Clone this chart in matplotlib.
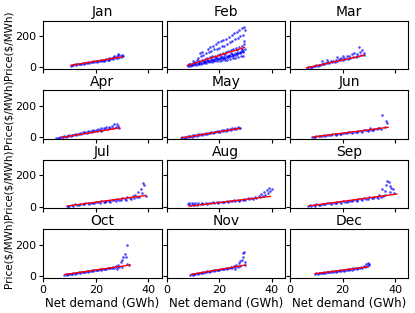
import numpy as np
import matplotlib
matplotlib.use("Agg")
import matplotlib.pyplot as plt

MONTHS = ["Jan", "Feb", "Mar", "Apr", "May", "Jun",
          "Jul", "Aug", "Sep", "Oct", "Nov", "Dec"]

# scatter points: net demand (GWh), price ($/MWh)
jan_x = [10.5, 11, 11.5, 12, 12.5, 13, 13.5, 14, 14.5, 15, 15.5, 16, 16.5, 17, 17.5, 18, 18.5, 19, 19.5, 20,
         20.5, 21, 21.5, 22, 22.5, 23, 23.5, 24, 24.5, 25, 25.5, 26, 26.5, 27, 27.5, 28, 28.5, 29, 29.5, 30,
         30.5, 28.5, 29.8, 27, 25, 23, 26]
jan_y = [12, 18, 14, 20, 16, 22, 19, 25, 21, 28, 24, 30, 27, 33, 29, 36, 32, 38, 35, 42,
         37, 44, 40, 47, 42, 50, 46, 55, 48, 58, 52, 62, 55, 66, 58, 72, 62, 78, 65, 75,
         70, 88, 82, 74, 50, 41, 58]

feb_x = [8.0, 8.3, 8.6, 9.1, 9.4, 9.0, 10.2, 9.8, 10.5, 10.1, 11.3, 10.8, 11.0, 11.6,
         12.2, 11.8, 12.5, 12.0, 13.1, 12.7, 13.4, 13.0, 12.8, 14.2, 13.8, 14.5, 14.0, 13.6,
         15.1, 14.8, 15.4, 15.0, 15.6, 16.2, 15.8, 16.5, 16.0, 16.7, 17.1, 16.8, 17.4, 17.0, 17.6,
         18.2, 17.9, 18.5, 18.0, 18.7, 19.1, 18.8, 19.4, 19.0, 19.6, 20.2, 19.9, 20.5, 20.0, 20.7,
         21.1, 20.8, 21.4, 21.0, 21.6, 22.2, 21.9, 22.5, 22.0, 22.7, 23.1, 22.8, 23.4, 23.0, 23.6,
         24.2, 23.9, 24.5, 24.0, 24.7, 25.1, 24.8, 25.4, 25.0, 25.6, 26.2, 25.9, 26.5, 26.0, 26.7,
         27.1, 26.8, 27.4, 27.0, 27.6, 28.2, 27.9, 28.5, 28.0, 28.7, 29.1, 28.8, 29.4, 29.0, 29.3,
         29.8, 29.6, 29.7,
         9.5, 10.7, 11.9, 12.4, 13.3, 14.1, 14.6, 15.3, 15.9, 16.4, 17.3, 17.8, 18.4, 19.2, 19.7,
         20.3, 20.9, 21.3, 21.8, 22.4, 22.9, 23.3, 23.8, 24.3, 24.9, 25.3, 25.8, 26.3, 26.9, 27.3,
         27.8, 28.3, 28.9, 29.2, 16.9, 18.9, 20.6, 22.2, 24.6, 26.6, 28.6]
feb_y = [8, 14, 20, 12, 18, 25, 15, 22, 30, 40, 18, 26, 35, 50,
         22, 30, 42, 60, 25, 34, 48, 70, 90, 28, 38, 55, 80, 100,
         30, 42, 60, 90, 120, 33, 46, 65, 100, 128, 36, 50, 70, 108, 140,
         38, 54, 75, 115, 150, 40, 58, 80, 120, 160, 42, 62, 85, 125, 170,
         45, 66, 92, 135, 175, 48, 70, 98, 140, 185, 50, 75, 105, 150, 195,
         55, 80, 110, 160, 205, 58, 85, 118, 170, 220, 62, 90, 125, 180, 230,
         66, 95, 130, 190, 240, 70, 100, 140, 200, 250, 75, 110, 150, 210, 260,
         120, 170, 240,
         15, 20, 24, 28, 30, 33, 36, 38, 40, 44, 45, 48, 50, 52, 55,
         55, 60, 58, 63, 62, 66, 68, 70, 72, 75, 78, 80, 82, 88, 90,
         95, 98, 105, 100, 60, 68, 75, 85, 95, 110, 120]

mar_x = [6.5, 7, 7.5, 8, 8.5, 9, 9.5, 10, 10.5, 11, 11.5, 12, 12.5, 13, 13.5, 14, 14.5, 15, 15.5, 16,
         16.5, 17, 17.5, 18, 18.5, 19, 19.5, 20, 20.5, 21, 21.5, 22, 22.5, 23, 23.5, 24, 24.5, 25, 25.5, 26,
         26.4, 26.8, 27, 27.5, 28, 28.3, 12, 14, 18, 20]
mar_y = [-2, 2, 0, 5, 3, 9, 6, 14, 10, 18, 14, 22, 25, 20, 30, 26, 33, 29, 38, 33,
         42, 36, 48, 40, 52, 45, 58, 48, 62, 52, 70, 56, 75, 60, 85, 65, 95, 68, 88, 72,
         132, 100, 78, 110, 80, 95, 40, 45, 65, 72]

apr_x = [5, 5.5, 6, 6.5, 7, 7.5, 8, 8.5, 9, 9.5, 10, 10.5, 11, 11.5, 12, 12.5, 13, 13.5, 14, 14.5,
         15, 15.5, 16, 16.5, 17, 17.5, 18, 18.5, 19, 19.5, 20, 20.5, 21, 21.5, 22, 22.5, 23, 23.5, 24, 24.5,
         25, 25.5, 26, 26.5, 27, 27.5, 28, 28.5, 29, 22]
apr_y = [-8, -5, -6, -2, 0, -3, 4, 1, 8, 5, 12, 8, 15, 11, 18, 14, 22, 18, 26, 21,
         30, 25, 33, 28, 36, 31, 40, 34, 43, 37, 47, 40, 50, 43, 55, 46, 58, 50, 62, 53,
         66, 57, 70, 60, 82, 65, 85, 70, 60, 38]

may_x = [5.5, 6, 6.5, 7, 7.5, 8, 8.5, 9, 9.5, 10, 10.5, 11, 11.5, 12, 12.5, 13, 13.5, 14, 14.5, 15,
         15.5, 16, 16.5, 17, 17.5, 18, 18.5, 19, 19.5, 20, 20.5, 21, 21.5, 22, 22.5, 23, 23.5, 24, 24.5, 25,
         25.5, 26, 26.5, 27, 27.5, 28]
may_y = [-6, -3, -8, 0, -4, 3, -1, 6, 2, 10, 5, 13, 8, 16, 11, 19, 14, 22, 17, 25,
         20, 28, 23, 31, 26, 34, 29, 37, 32, 40, 35, 43, 38, 46, 41, 50, 44, 53, 47, 56,
         50, 60, 53, 62, 56, 58]

jun_x = [8.5, 9, 9.5, 10, 11, 11.5, 12, 13, 13.5, 14, 15, 15.5, 16, 17, 17.5, 18, 19, 19.5, 20, 21,
         21.5, 22, 23, 23.5, 24, 25, 25.5, 26, 27, 27.5, 28, 29, 29.5, 30, 31, 31.5, 32, 33, 33.5, 34,
         34.5, 35, 36, 36.5, 37, 30.5]
jun_y = [-2, 2, 0, 4, 6, 3, 9, 10, 7, 13, 14, 11, 17, 18, 15, 22, 22, 19, 26, 26,
         23, 30, 30, 27, 34, 34, 31, 38, 38, 35, 42, 42, 40, 47, 46, 44, 52, 50, 58, 55,
         48, 140, 62, 105, 90, 55]

jul_x = [9, 9.5, 10, 11, 11.5, 12, 13, 13.5, 14, 15, 15.5, 16, 17, 17.5, 18, 19, 19.5, 20, 21, 21.5,
         22, 23, 23.5, 24, 25, 25.5, 26, 27, 27.5, 28, 29, 29.5, 30, 31, 31.5, 32, 33, 33.5, 34, 34.5,
         35, 35.5, 36, 36.5, 37, 37.5, 38, 38.5, 39]
jul_y = [2, 6, 4, 9, 6, 13, 12, 9, 17, 16, 13, 21, 20, 17, 25, 24, 21, 29, 28, 25,
         33, 32, 28, 38, 36, 32, 42, 40, 36, 47, 44, 40, 52, 48, 44, 58, 54, 48, 65, 52,
         75, 58, 90, 62, 110, 85, 150, 135, 70]

aug_x = [8, 8.5, 9, 9.5, 10, 10.5, 11, 11.5, 12, 13, 13.5, 14, 15, 15.5, 16, 17, 17.5, 18, 19, 19.5,
         20, 21, 21.5, 22, 23, 23.5, 24, 25, 25.5, 26, 27, 27.5, 28, 29, 29.5, 30, 31, 31.5, 32, 33,
         33.5, 34, 35, 35.5, 36, 36.5, 37, 37.5, 38, 38.5, 39, 39.5, 40]
aug_y = [15, 22, 12, 25, 18, 8, 20, 12, 22, 14, 20, 16, 22, 18, 24, 20, 26, 22, 28, 24,
         30, 26, 32, 28, 34, 30, 36, 33, 39, 35, 42, 37, 45, 40, 48, 43, 52, 46, 56, 50,
         62, 55, 70, 58, 78, 65, 95, 72, 105, 85, 118, 100, 112]

sep_x = [7, 7.5, 8, 9, 9.5, 10, 11, 11.5, 12, 13, 13.5, 14, 15, 15.5, 16, 17, 17.5, 18, 19, 19.5,
         20, 21, 21.5, 22, 23, 23.5, 24, 25, 25.5, 26, 27, 27.5, 28, 29, 29.5, 30, 31, 31.5, 32, 33,
         33.5, 34, 34.5, 35, 35.5, 36, 36.5, 37, 37.5, 38, 38.5, 39, 39.5, 38, 36]
sep_y = [2, 8, 5, 9, 6, 13, 12, 9, 16, 16, 13, 20, 20, 17, 24, 24, 21, 28, 28, 25,
         33, 32, 29, 37, 37, 33, 42, 41, 37, 47, 46, 42, 52, 51, 47, 58, 56, 52, 64, 62,
         56, 72, 62, 110, 70, 100, 140, 165, 155, 130, 120, 115, 85, 95, 75]

oct_x = [8, 8.5, 9, 9.5, 10, 10.5, 11, 11.5, 12, 12.5, 13, 13.5, 14, 14.5, 15, 15.5, 16, 16.5, 17, 17.5,
         18, 18.5, 19, 19.5, 20, 20.5, 21, 21.5, 22, 22.5, 23, 23.5, 24, 24.5, 25, 25.5, 26, 26.5, 27, 27.5,
         28, 28.5, 29, 29.5, 30, 30.5, 31, 31.5, 31.8, 32, 32.5, 28, 30]
oct_y = [8, 12, 10, 14, 12, 16, 14, 18, 16, 21, 19, 23, 21, 26, 24, 28, 26, 31, 29, 33,
         31, 36, 34, 38, 36, 41, 39, 43, 41, 46, 44, 48, 46, 52, 49, 54, 51, 58, 55, 62,
         57, 70, 60, 90, 100, 125, 140, 120, 198, 80, 72, 48, 58]

nov_x = [9, 9.5, 10, 10.5, 11, 11.5, 12, 12.5, 13, 13.5, 14, 14.5, 15, 15.5, 16, 16.5, 17, 17.5, 18, 18.5,
         19, 19.5, 20, 20.5, 21, 21.5, 22, 22.5, 23, 23.5, 24, 24.5, 25, 25.5, 26, 26.5, 27, 27.5, 28, 28.5,
         29, 29.2, 29.5, 29.8, 30, 26, 28]
nov_y = [8, 12, 10, 15, 13, 18, 16, 21, 19, 24, 22, 27, 25, 30, 28, 33, 31, 36, 34, 39,
         37, 42, 40, 45, 43, 48, 46, 51, 48, 54, 50, 57, 53, 62, 56, 68, 60, 85, 95, 105,
         120, 145, 157, 90, 72, 48, 65]

dec_x = [9.5, 10, 10.5, 11, 11.5, 12, 12.5, 13, 13.5, 14, 14.5, 15, 15.5, 16, 16.5, 17, 17.5, 18, 18.5, 19,
         19.5, 20, 20.5, 21, 21.5, 22, 22.5, 23, 23.5, 24, 24.5, 25, 25.5, 26, 26.5, 27, 27.5, 28, 28.5, 29,
         29.3, 29.6, 29.9, 30]
dec_y = [14, 18, 15, 20, 17, 22, 19, 24, 21, 26, 23, 28, 25, 30, 27, 32, 29, 35, 31, 37,
         33, 39, 35, 41, 37, 44, 39, 46, 41, 49, 44, 52, 47, 55, 50, 60, 53, 66, 57, 75,
         62, 85, 70, 78]

scatter_x = [jan_x, feb_x, mar_x, apr_x, may_x, jun_x, jul_x, aug_x, sep_x, oct_x, nov_x, dec_x]
scatter_y = [jan_y, feb_y, mar_y, apr_y, may_y, jun_y, jul_y, aug_y, sep_y, oct_y, nov_y, dec_y]

# fitted line end points per month (x0, x1), (y0, y1)
fit_x = [(10.5, 30.0), (7.9, 29.6), (6.3, 28.3), (7.0, 29.0), (6.0, 27.7), (8.9, 37.3),
         (9.5, 39.0), (8.6, 39.4), (7.3, 40.6), (8.3, 33.0), (9.3, 30.0), (9.5, 29.8)]
fit_y = [(13, 68), (12, 128), (-3, 78), (-3, 58), (-5, 55), (0, 62),
         (4, 71), (2, 65), (4, 80), (10, 71), (10, 71), (15, 60)]

fig, axes = plt.subplots(4, 3, figsize=(4.15, 3.13), dpi=100, sharex=True, sharey=True)
fig.subplots_adjust(left=0.104, right=0.984, top=0.934, bottom=0.113,
                    wspace=0.042, hspace=0.44)

for i, ax in enumerate(axes.flat):
    ax.scatter(scatter_x[i], scatter_y[i], s=3.5, color="blue", alpha=0.7,
               linewidths=0)
    ax.plot(fit_x[i], fit_y[i], color="red", lw=1.0)
    ax.set_title(MONTHS[i], fontsize=10, pad=3)
    ax.tick_params(labelsize=8, length=3, pad=2)
    if i % 3 == 0:
        ax.set_ylabel("Price($/MWh)", fontsize=7.5, labelpad=1)
    if i >= 9:
        ax.set_xlabel("Net demand (GWh)", fontsize=8.5, labelpad=2)

axes[0, 0].set_xlim(0, 45)
axes[0, 0].set_ylim(-10, 300)
axes[0, 0].set_xticks([0, 20, 40])
axes[0, 0].set_yticks([0, 200])

fig.savefig("out.png", dpi=100)
plt.close(fig)
